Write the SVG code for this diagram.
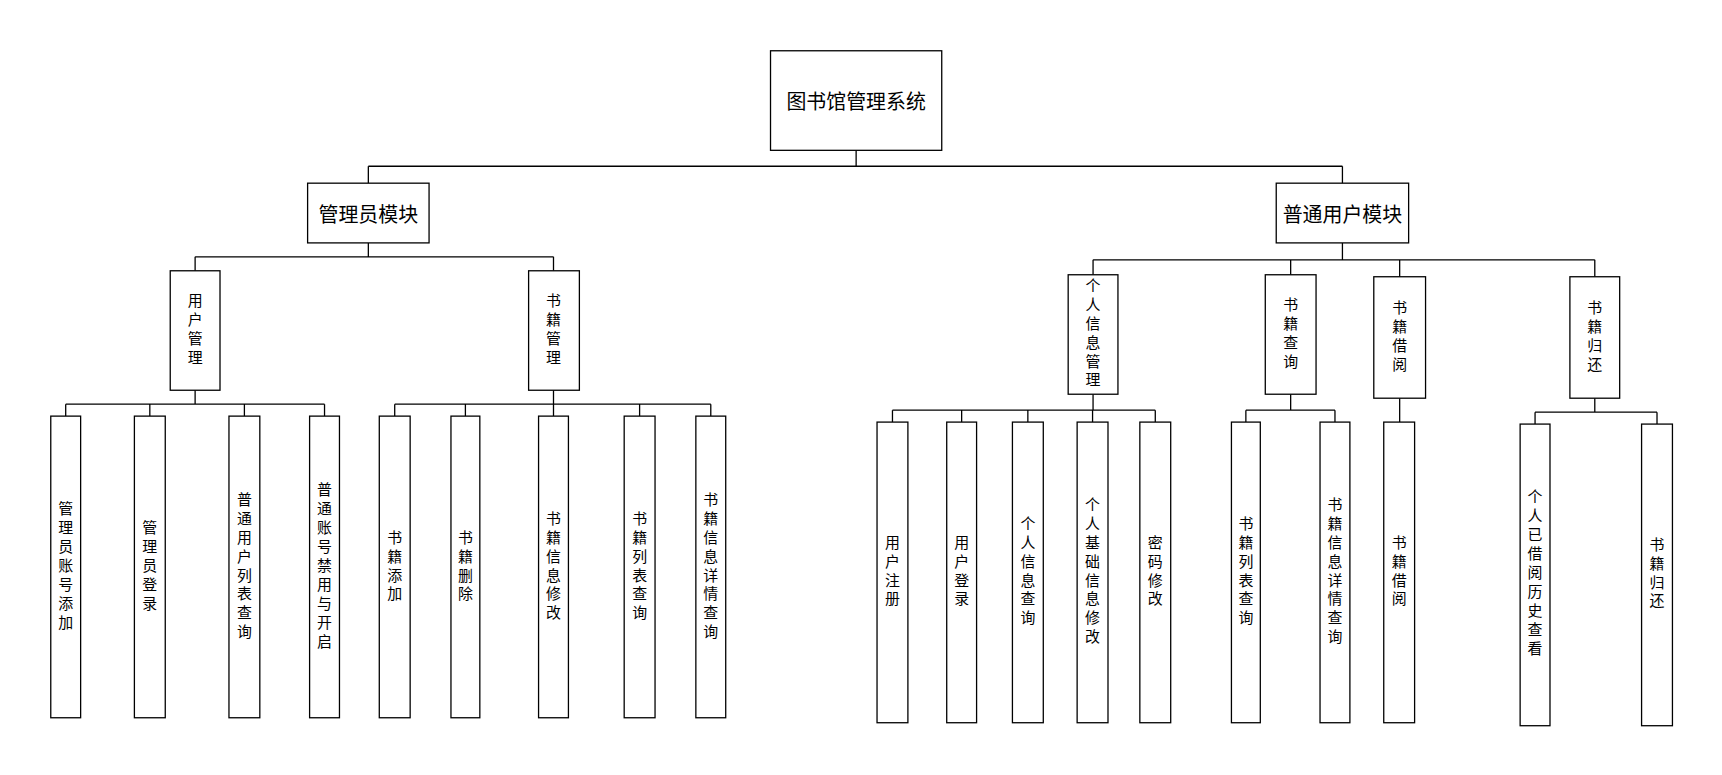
<svg xmlns="http://www.w3.org/2000/svg" width="1722" height="775" viewBox="0 0 1722 775">
<style>
rect{fill:#fff;stroke:#000;stroke-width:1.3}
text{font-family:"Noto Sans CJK SC","Liberation Sans",sans-serif;fill:#000}
.h{font-size:20px;text-anchor:middle;dominant-baseline:central}
.v{font-size:15px;writing-mode:vertical-rl;text-anchor:middle;letter-spacing:4px}
#conn path{fill:none;stroke:#000;stroke-width:1.3}
</style>
<rect width="1722" height="775" style="fill:#fff;stroke:none"/>
<g transform="scale(0.9955 0.9955)">
<g id="conn">
<path d="M860 151V167M370 167H1348.5M370 167V184M1348.5 167V184"/>
<path d="M370 244V258M196 258H556M196 258V272M556 258V272"/>
<path d="M196 392V406M66 406H326M66 406V418M150.5 406V418M245.5 406V418M326 406V418"/>
<path d="M556 392V406M396.5 406H714M396.5 406V418M467.5 406V418M556 406V418M642.5 406V418M714 406V418"/>
<path d="M1348.5 244V261M1098 261H1602M1098 261V276M1296.5 261V276M1406 261V278M1602 261V278"/>
<path d="M1098 396V412M896.5 412H1160.5M896.5 412V424M966 412V424M1032.5 412V424M1097.5 412V424M1160.5 412V424"/>
<path d="M1296.5 396V412M1251.5 412H1341M1251.5 412V424M1341 412V424"/>
<path d="M1406 400V424"/>
<path d="M1602 400V414M1542 414H1664.5M1542 414V426M1664.5 414V426"/>
</g>
<g id="root"><rect x="774" y="51" width="172" height="100"/><text class="h" x="860" y="101">图书馆管理系统</text></g>
<g id="admin"><rect x="309" y="184" width="122" height="60"/><text class="h" x="370" y="214">管理员模块</text></g>
<g id="user"><rect x="1282" y="184" width="133" height="60"/><text class="h" x="1348.5" y="214">普通用户模块</text></g>
<g id="um"><rect x="171" y="272" width="50" height="120"/><text class="v" x="196" y="332">用户管理</text></g>
<g id="bm"><rect x="531" y="272" width="51" height="120"/><text class="v" x="556" y="332">书籍管理</text></g>
<g id="a1"><rect x="51" y="418" width="30" height="303"/><text class="v" x="66" y="570">管理员账号添加</text></g>
<g id="a2"><rect x="135" y="418" width="31" height="303"/><text class="v" x="150.5" y="570">管理员登录</text></g>
<g id="a3"><rect x="230" y="418" width="31" height="303"/><text class="v" x="245.5" y="570">普通用户列表查询</text></g>
<g id="a4"><rect x="311" y="418" width="30" height="303"/><text class="v" x="326" y="570">普通账号禁用与开启</text></g>
<g id="b1"><rect x="381" y="418" width="31" height="303"/><text class="v" x="396.5" y="570">书籍添加</text></g>
<g id="b2"><rect x="453" y="418" width="29" height="303"/><text class="v" x="467.5" y="570">书籍删除</text></g>
<g id="b3"><rect x="541" y="418" width="30" height="303"/><text class="v" x="556" y="570">书籍信息修改</text></g>
<g id="b4"><rect x="627" y="418" width="31" height="303"/><text class="v" x="642.5" y="570">书籍列表查询</text></g>
<g id="b5"><rect x="699" y="418" width="30" height="303"/><text class="v" x="714" y="570">书籍信息详情查询</text></g>
<g id="pi"><rect x="1073" y="276" width="50" height="120"/><text class="v" x="1098" y="336">个人信息管理</text></g>
<g id="bq"><rect x="1271" y="276" width="51" height="120"/><text class="v" x="1296.5" y="336">书籍查询</text></g>
<g id="bb"><rect x="1380" y="278" width="52" height="122"/><text class="v" x="1406" y="339">书籍借阅</text></g>
<g id="br"><rect x="1577" y="278" width="50" height="122"/><text class="v" x="1602" y="339">书籍归还</text></g>
<g id="p1"><rect x="881" y="424" width="31" height="302"/><text class="v" x="896.5" y="575">用户注册</text></g>
<g id="p2"><rect x="951" y="424" width="30" height="302"/><text class="v" x="966" y="575">用户登录</text></g>
<g id="p3"><rect x="1017" y="424" width="31" height="302"/><text class="v" x="1032.5" y="575">个人信息查询</text></g>
<g id="p4"><rect x="1082" y="424" width="31" height="302"/><text class="v" x="1097.5" y="575">个人基础信息修改</text></g>
<g id="p5"><rect x="1145" y="424" width="31" height="302"/><text class="v" x="1160.5" y="575">密码修改</text></g>
<g id="q1"><rect x="1237" y="424" width="29" height="302"/><text class="v" x="1251.5" y="575">书籍列表查询</text></g>
<g id="q2"><rect x="1326" y="424" width="30" height="302"/><text class="v" x="1341" y="575">书籍信息详情查询</text></g>
<g id="j1"><rect x="1390" y="424" width="31" height="302"/><text class="v" x="1405.5" y="575">书籍借阅</text></g>
<g id="r1"><rect x="1527" y="426" width="30" height="303"/><text class="v" x="1542" y="577">个人已借阅历史查看</text></g>
<g id="r2"><rect x="1649" y="426" width="31" height="303"/><text class="v" x="1664.5" y="577">书籍归还</text></g>
</g>
</svg>
